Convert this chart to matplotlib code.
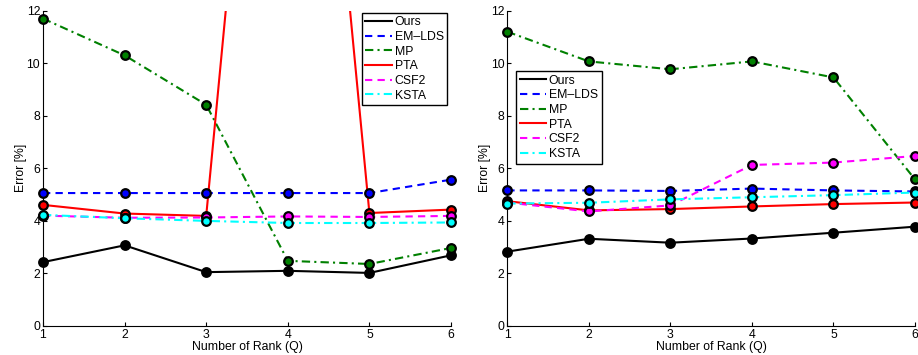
import matplotlib
matplotlib.use("Agg")
import matplotlib.pyplot as plt

plt.rcParams['font.family'] = ['Liberation Sans', 'DejaVu Sans']

ranks = [1, 2, 3, 4, 5, 6]
labels = ["Ours", "EM\u2013LDS", "MP", "PTA", "CSF2", "KSTA"]

# left panel
left_ours = [2.43, 3.07, 2.05, 2.10, 2.02, 2.69]
left_emlds = [5.06, 5.06, 5.06, 5.06, 5.06, 5.57]
left_mp = [11.7, 10.3, 8.42, 2.48, 2.36, 2.97]
left_pta = [4.61, 4.28, 4.19, 36.8, 4.30, 4.43]
left_csf2 = [4.20, 4.12, 4.13, 4.17, 4.15, 4.19]
left_ksta = [4.23, 4.10, 4.00, 3.92, 3.92, 3.94]

# right panel
right_ours = [2.83, 3.32, 3.17, 3.33, 3.55, 3.78]
right_emlds = [5.16, 5.16, 5.14, 5.23, 5.16, 5.12]
right_mp = [11.2, 10.07, 9.77, 10.07, 9.46, 5.58]
right_pta = [4.75, 4.40, 4.45, 4.55, 4.64, 4.70]
right_csf2 = [4.70, 4.36, 4.59, 6.13, 6.22, 6.47]
right_ksta = [4.66, 4.69, 4.82, 4.90, 4.98, 5.08]

colors = ["black", "blue", (0, 0.5, 0), "red", "magenta", "cyan"]
styles = ["-", (0, (3.5, 2.5)), (0, (4, 2, 1, 2)), "-", (0, (3.5, 2.5)), (0, (4, 2, 1, 2))]

fig = plt.figure(figsize=(9.18, 3.55), dpi=100)
ax1 = fig.add_axes([43 / 918, 29 / 355, 408 / 918, 315.3 / 355])
ax2 = fig.add_axes([507.3 / 918, 29 / 355, 407.7 / 918, 315.3 / 355])

panels = [
    (ax1, [left_ours, left_emlds, left_mp, left_pta, left_csf2, left_ksta],
     dict(loc="upper right", bbox_to_anchor=(0.991, 0.994))),
    (ax2, [right_ours, right_emlds, right_mp, right_pta, right_csf2, right_ksta],
     dict(loc="upper left", bbox_to_anchor=(0.021, 0.809))),
]

for ax, series, legkw in panels:
    for vals, c, ls, lab in zip(series, colors, styles, labels):
        ax.plot(ranks, vals, color=c, linestyle=ls, linewidth=1.5, label=lab, zorder=2)
    for vals, c in zip(series, colors):
        ax.plot(ranks, vals, linestyle="none", marker="o", markersize=6.2,
                markerfacecolor=c, markeredgecolor="black", markeredgewidth=1.6,
                clip_on=False, zorder=3)
    ax.set_xlim(1, 6)
    ax.set_ylim(0, 12)
    ax.set_xticks(ranks)
    ax.set_yticks([0, 2, 4, 6, 8, 10, 12])
    ax.spines["top"].set_visible(False)
    ax.spines["right"].set_visible(False)
    ax.tick_params(direction="in", length=3, labelsize=8.8, pad=2)
    ax.set_xlabel("Number of Rank (Q)", fontsize=8.8, labelpad=0)
    ax.set_ylabel("Error [%]", fontsize=8.8, labelpad=0)
    leg = ax.legend(fontsize=8.8, frameon=True, fancybox=False, edgecolor="black",
                    framealpha=1, handlelength=2.2, handletextpad=0.2,
                    labelspacing=0.22, borderpad=0.3, borderaxespad=0, **legkw)
    leg.get_frame().set_linewidth(1.0)

fig.savefig("out.png", dpi=100)
